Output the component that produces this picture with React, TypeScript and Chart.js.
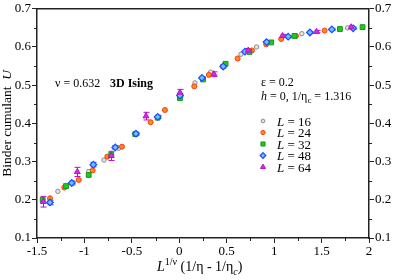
import React, { useEffect, useRef } from 'react';
import { Chart, registerables } from 'chart.js';

Chart.register(...registerables);

const SERIF = '"Liberation Serif", "Times New Roman", serif';

// ---- data ----
const L16_X = [-1.28, -1.12, -0.955, -0.794, -0.64, 0.165, 0.33, 0.65, 0.815, 1.292, 1.774];
const L16_U = [0.222, 0.245, 0.274, 0.304, 0.335, 0.506, 0.534, 0.581, 0.6, 0.635, 0.65];

const L24_X = [-1.363, -1.212, -1.06, -0.913, -0.759, -0.604, -0.302, -0.151, 0.158, 0.312, 0.46, 0.615, 0.766, 0.916, 1.074, 1.23, 1.532];
const L24_U = [0.204, 0.232, 0.252, 0.277, 0.313, 0.339, 0.403, 0.435, 0.497, 0.527, 0.549, 0.57, 0.591, 0.607, 0.621, 0.629, 0.643];

const L32_X = [-1.44, -1.194, -0.955, -0.717, -0.464, -0.228, 0.007, 0.25, 0.488, 0.74, 0.969, 1.215, 1.693, 1.932];
const L32_U = [0.2, 0.236, 0.265, 0.318, 0.372, 0.415, 0.466, 0.515, 0.556, 0.587, 0.612, 0.629, 0.647, 0.652];

const L48_X = [-1.363, -1.134, -0.906, -0.675, -0.457, -0.228, 0.007, 0.239, 0.463, 0.692, 0.92, 1.148, 1.377, 1.608, 1.833];
const L48_U = [0.193, 0.244, 0.292, 0.337, 0.373, 0.417, 0.473, 0.519, 0.549, 0.588, 0.613, 0.627, 0.638, 0.646, 0.649];
const L48_ERR = [0.006, 0.005, 0.006, 0.005, 0.004, 0.004, 0.004, 0.003, 0.004, 0.003, 0.003, 0.003, 0.003, 0.003, 0.003];

const L64_X = [-1.434, -1.075, -0.717, -0.351, 0.007, 0.365, 0.727, 1.089, 1.447, 1.812];
const L64_U = [0.195, 0.273, 0.315, 0.419, 0.481, 0.529, 0.591, 0.629, 0.64, 0.652];
const L64_ERR = [0.014, 0.012, 0.012, 0.01, 0.008, 0.006, 0.005, 0.004, 0.003, 0.003];

const X_TICKS = [-1.5, -1, -0.5, 0, 0.5, 1, 1.5, 2];
const Y_TICKS = [0.1, 0.2, 0.3, 0.4, 0.5, 0.6, 0.7];
const LEGEND_LABELS = ['16', '24', '32', '48', '64'];

const pts = (xs: number[], ys: number[]) => xs.map((x, i) => ({ x, y: ys[i] }));

const STYLES = [
  { pointStyle: 'circle', radius: 2.2, bg: '#e4e4e4', border: '#8c8c8c', bw: 1 },
  { pointStyle: 'circle', radius: 2.5, bg: '#ff8a1c', border: '#ff3a10', bw: 1 },
  { pointStyle: 'rect', radius: 3.4, bg: '#22c822', border: '#109a10', bw: 1 },
  { pointStyle: 'rectRot', radius: 3.3, bg: '#6ec0ff', border: '#1a4cff', bw: 1.2 },
  { pointStyle: 'triangle', radius: 3.4, bg: '#d42ee4', border: '#b810c8', bw: 1 },
];

type Part = { t: string; f: string; dy?: number };
function richWidth(ctx: CanvasRenderingContext2D, parts: Part[]) {
  let w = 0;
  for (const p of parts) { ctx.font = p.f; w += ctx.measureText(p.t).width; }
  return w;
}
function drawRich(ctx: CanvasRenderingContext2D, x: number, y: number, parts: Part[]) {
  let cx = x;
  for (const p of parts) {
    ctx.font = p.f;
    ctx.fillText(p.t, cx, y + (p.dy || 0));
    cx += ctx.measureText(p.t).width;
  }
}

function drawMarker(ctx: CanvasRenderingContext2D, i: number, x: number, y: number, scale: number) {
  const s = STYLES[i];
  const r = s.radius * scale;
  ctx.save();
  ctx.beginPath();
  if (s.pointStyle === 'circle') ctx.arc(x, y, r, 0, Math.PI * 2);
  else if (s.pointStyle === 'rect') { const h = r * Math.SQRT1_2; ctx.rect(x - h, y - h, 2 * h, 2 * h); }
  else if (s.pointStyle === 'rectRot') { ctx.moveTo(x, y - r); ctx.lineTo(x + r, y); ctx.lineTo(x, y + r); ctx.lineTo(x - r, y); ctx.closePath(); }
  else { ctx.moveTo(x, y - r); ctx.lineTo(x + r * 0.866, y + r * 0.5); ctx.lineTo(x - r * 0.866, y + r * 0.5); ctx.closePath(); }
  ctx.fillStyle = s.bg; ctx.fill();
  ctx.lineWidth = s.bw; ctx.strokeStyle = s.border; ctx.stroke();
  ctx.restore();
}

const decorPlugin = {
  id: 'decor',
  beforeDatasetsDraw(chart: any) {
    const ctx = chart.ctx as CanvasRenderingContext2D;
    const xs = chart.scales.x, ys = chart.scales.y;
    ctx.save();
    chart.data.datasets.forEach((ds: any) => {
      if (!ds.err) return;
      ctx.strokeStyle = ds.borderColor;
      ctx.lineWidth = 1;
      ds.data.forEach((p: any, i: number) => {
        const px = Math.round(xs.getPixelForValue(p.x)) + 0.5;
        const y1 = ys.getPixelForValue(p.y - ds.err[i]);
        const y2 = ys.getPixelForValue(p.y + ds.err[i]);
        ctx.beginPath();
        ctx.moveTo(px, y1); ctx.lineTo(px, y2);
        ctx.moveTo(px - 3, y1); ctx.lineTo(px + 3, y1);
        ctx.moveTo(px - 3, y2); ctx.lineTo(px + 3, y2);
        ctx.stroke();
      });
    });
    ctx.restore();
  },
  afterDraw(chart: any) {
    const ctx = chart.ctx as CanvasRenderingContext2D;
    const { left, right, top, bottom } = chart.chartArea;
    const xs = chart.scales.x, ys = chart.scales.y;
    ctx.save();
    ctx.strokeStyle = '#222';
    ctx.lineWidth = 1.5;
    ctx.beginPath();
    ctx.moveTo(left, top); ctx.lineTo(right, top);
    ctx.stroke();
    // minor ticks
    ctx.lineWidth = 1;
    ctx.beginPath();
    for (let i = 0; i < X_TICKS.length - 1; i++) {
      const v = (X_TICKS[i] + X_TICKS[i + 1]) / 2;
      const px = Math.round(xs.getPixelForValue(v)) + 0.5;
      ctx.moveTo(px, bottom); ctx.lineTo(px, bottom + 3);
    }
    for (let i = 0; i < Y_TICKS.length - 1; i++) {
      const v = (Y_TICKS[i] + Y_TICKS[i + 1]) / 2;
      const py = Math.round(ys.getPixelForValue(v)) + 0.5;
      ctx.moveTo(left - 3, py); ctx.lineTo(left, py);
      ctx.moveTo(right, py); ctx.lineTo(right + 3, py);
    }
    ctx.stroke();

    ctx.fillStyle = '#000';
    ctx.textBaseline = 'alphabetic';
    ctx.textAlign = 'left';
    const f12 = `12px ${SERIF}`;
    ctx.font = f12;
    ctx.fillText('ν = 0.632', 55, 87);
    ctx.font = `bold 12px ${SERIF}`;
    ctx.fillText('3D Ising', 110, 87);
    ctx.font = f12;
    ctx.fillText('ε = 0.2', 261, 86);
    drawRich(ctx, 261, 100, [
      { t: 'h', f: `italic 12px ${SERIF}` },
      { t: ' = 0, 1/η', f: f12 },
      { t: 'c', f: `9px ${SERIF}`, dy: 3 },
      { t: ' = 1.316', f: f12 },
    ]);
    const rows = [121, 132.5, 144, 155.5, 167];
    LEGEND_LABELS.forEach((lab, i) => {
      drawMarker(ctx, i, 263, rows[i], 0.85);
      ctx.fillStyle = '#000';
      drawRich(ctx, 277, rows[i] + 4.5, [
        { t: 'L', f: `italic 13px ${SERIF}` },
        { t: ' = ' + lab, f: `13px ${SERIF}` },
      ]);
    });

    // x title
    const f14 = `14px ${SERIF}`;
    const xParts: Part[] = [
      { t: 'L', f: `italic 14px ${SERIF}` },
      { t: '1/ν', f: `10px ${SERIF}`, dy: -6 },
      { t: ' (1/η - 1/η', f: f14 },
      { t: 'c', f: `italic 10px ${SERIF}`, dy: 4 },
      { t: ')', f: f14 },
    ];
    drawRich(ctx, 157, 271, xParts);

    // y title
    const yParts: Part[] = [
      { t: 'Binder cumulant  ', f: `13.5px ${SERIF}` },
      { t: 'U', f: `italic 13.5px ${SERIF}` },
    ];
    const w = richWidth(ctx, yParts);
    ctx.translate(11, (top + bottom) / 2);
    ctx.rotate(-Math.PI / 2);
    drawRich(ctx, -w / 2, 0, yParts);
    ctx.restore();
  },
};

export default function App() {
  const ref = useRef<HTMLCanvasElement | null>(null);
  useEffect(() => {
    if (!ref.current) return;
    const series = [
      { label: 'L = 16', data: pts(L16_X, L16_U), err: null as number[] | null, order: 4 },
      { label: 'L = 24', data: pts(L24_X, L24_U), err: null, order: 3 },
      { label: 'L = 32', data: pts(L32_X, L32_U), err: null, order: 2 },
      { label: 'L = 48', data: pts(L48_X, L48_U), err: L48_ERR, order: 1 },
      { label: 'L = 64', data: pts(L64_X, L64_U), err: L64_ERR, order: 0 },
    ];
    const tickFont = { family: SERIF, size: 13 };
    const yAxis = (pos: 'left' | 'right', w: number) => ({
      type: 'linear' as const,
      position: pos,
      min: 0.1,
      max: 0.7,
      afterFit: (s: any) => { s.width = w; },
      ticks: {
        stepSize: 0.1,
        color: '#000',
        font: tickFont,
        padding: 1,
        callback: (v: any) => Number(v).toFixed(1),
      },
      grid: { drawOnChartArea: false, tickLength: 5, color: '#222', tickWidth: 1 },
      border: { color: '#222', width: 1.5 },
    });
    const chart = new Chart(ref.current, {
      type: 'scatter',
      data: {
        datasets: series.map((s, i) => ({
          label: s.label,
          data: s.data,
          err: s.err,
          order: s.order,
          pointStyle: STYLES[i].pointStyle as any,
          pointRadius: STYLES[i].radius,
          pointBackgroundColor: STYLES[i].bg,
          pointBorderColor: STYLES[i].border,
          pointBorderWidth: STYLES[i].bw,
          borderColor: STYLES[i].border,
          backgroundColor: STYLES[i].bg,
          showLine: false,
        })) as any,
      },
      options: {
        animation: false,
        responsive: false,
        layout: { padding: { top: 5, left: 0, right: 0, bottom: 0 } },
        plugins: { legend: { display: false }, tooltip: { enabled: false } },
        scales: {
          x: {
            type: 'linear',
            min: -1.5,
            max: 2,
            afterFit: (s: any) => { s.height = 42; },
            ticks: {
              stepSize: 0.5,
              color: '#000',
              font: tickFont,
              padding: 1,
              maxRotation: 0,
              callback: (v: any) => String(Math.round(Number(v) * 10) / 10),
            },
            grid: { drawOnChartArea: false, tickLength: 5, color: '#222', tickWidth: 1 },
            border: { color: '#222', width: 1.5 },
          },
          y: yAxis('left', 37),
          y2: yAxis('right', 26),
        } as any,
      },
      plugins: [decorPlugin],
    });
    return () => chart.destroy();
  }, []);
  return (
    <div style={{ position: 'absolute', left: 0, top: 0, width: 395, height: 280, background: '#fff' }}>
      <canvas ref={ref} width={395} height={280} />
    </div>
  );
}
